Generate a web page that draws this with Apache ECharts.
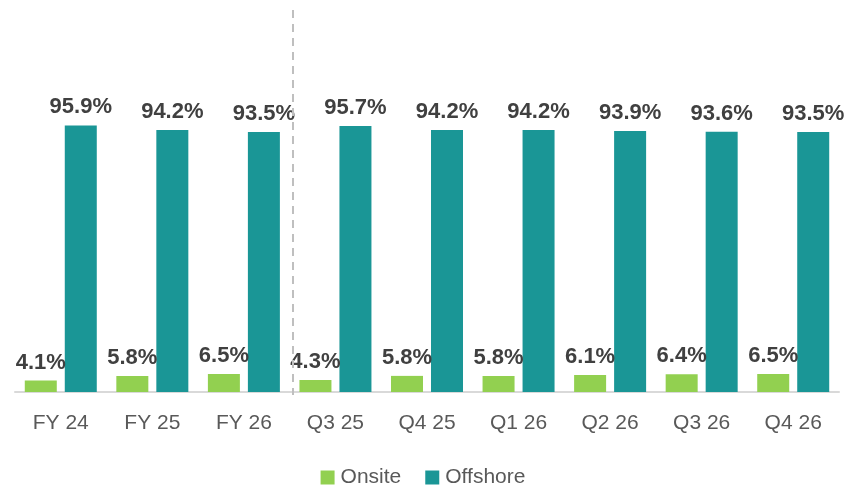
<!DOCTYPE html>
<html>
<head>
<meta charset="utf-8">
<script src="https://cdn.jsdelivr.net/npm/echarts@6/dist/echarts.min.js"></script>
<style>
  html, body { margin: 0; padding: 0; background: #fff; }
  #chart { width: 846px; height: 487px; }
</style>
</head>
<body>
<div id="chart"></div>
<script>
const categories = ["FY 24", "FY 25", "FY 26", "Q3 25", "Q4 25", "Q1 26", "Q2 26", "Q3 26", "Q4 26"];
const onsite = [4.1, 5.8, 6.5, 4.3, 5.8, 5.8, 6.1, 6.4, 6.5];
const offshore = [95.9, 94.2, 93.5, 95.7, 94.2, 94.2, 93.9, 93.6, 93.5];
const dividerAfter = 2; // dashed line between FY 26 and Q3 25

const chart = echarts.init(document.getElementById("chart"));
const font = "'Liberation Sans', Arial, sans-serif";

const barLabel = {
  show: true,
  position: "top",
  distance: 7,
  formatter: p => p.value.toFixed(1) + "%",
  color: "#404040",
  fontSize: 22,
  fontWeight: "bold",
  fontFamily: font
};

chart.setOption({
  animation: false,
  textStyle: { fontFamily: font },
  grid: { left: 15, right: 7, top: 114, bottom: 95, containLabel: false },
  legend: {
    bottom: -1,
    padding: [0, 5],
    left: "center",
    itemWidth: 14,
    itemHeight: 14,
    itemGap: 24,
    icon: "rect",
    textStyle: { color: "#595959", fontSize: 21, fontFamily: font, padding: [0, 0, 0, 1] },
    data: ["Onsite", "Offshore"]
  },
  xAxis: {
    type: "category",
    data: categories,
    axisLine: { lineStyle: { color: "#d9d9d9", width: 2 } },
    axisTick: { show: false },
    axisLabel: { color: "#595959", fontSize: 21, margin: 21, fontFamily: font }
  },
  yAxis: {
    type: "value",
    min: 0,
    max: 100,
    show: false,
    splitLine: { show: false }
  },
  series: [
    {
      name: "Onsite",
      type: "bar",
      data: onsite,
      barWidth: 32,
      barGap: "25%",
      itemStyle: { color: "#92d050" },
      label: barLabel
    },
    {
      name: "Offshore",
      type: "bar",
      data: offshore,
      barWidth: 32,
      itemStyle: { color: "#1a9696" },
      label: barLabel
    }
  ]
});

// dashed divider placed between two category centres
const xa = chart.convertToPixel({ xAxisIndex: 0 }, dividerAfter);
const xb = chart.convertToPixel({ xAxisIndex: 0 }, dividerAfter + 1);
const baseY = chart.convertToPixel({ yAxisIndex: 0 }, 0);
const xDiv = Math.round((xa + xb) / 2) + 3;
chart.setOption({
  graphic: [{
    type: "line",
    shape: { x1: xDiv, y1: 10, x2: xDiv, y2: baseY + 3 },
    style: { stroke: "#bfbfbf", lineWidth: 2, lineDash: [8, 6] },
    z: 10
  }]
});
</script>
</body>
</html>
